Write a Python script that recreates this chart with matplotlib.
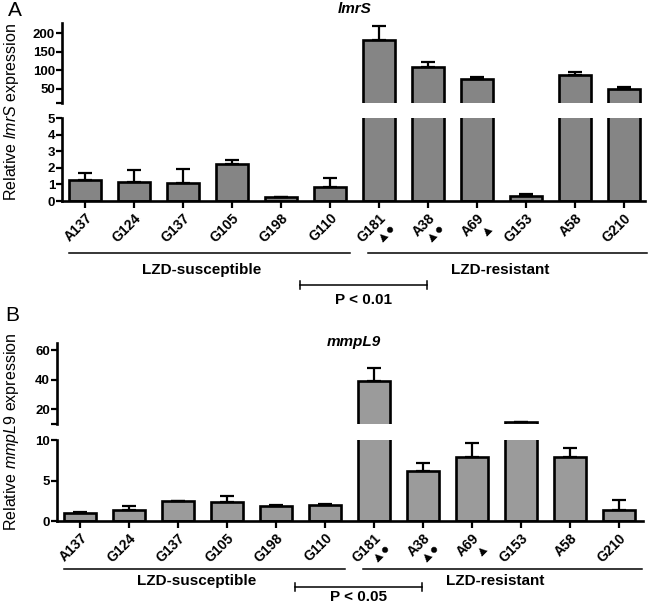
"""
Relative lmrS / mmpL9 expression in LZD-susceptible and LZD-resistant isolates,
drawn as two broken-axis bar charts (GraphPad-like style).
"""

import numpy as np
import matplotlib.pyplot as plt
from matplotlib.transforms import blended_transform_factory

plt.rcParams["font.family"] = ["Liberation Sans", "DejaVu Sans"]
plt.rcParams["font.weight"] = "bold"
plt.rcParams["mathtext.fontset"] = "custom"
plt.rcParams["mathtext.rm"] = "Liberation Sans:weight=normal"
plt.rcParams["mathtext.it"] = "Liberation Sans:style=italic:weight=normal"

# ---------------------------------------------------------------------------
# data
# ---------------------------------------------------------------------------

strains = ["A137", "G124", "G137", "G105", "G198", "G110",
           "G181", "A38", "A69", "G153", "A58", "G210"]
marks = ["", "", "", "", "", "",
         "\u25B2\u25CF", "\u25B2\u25CF", "\u25B2", "", "", ""]

lmrs_mean = [1.25, 1.16, 1.10, 2.21, 0.22, 0.84,
             181.0, 110.0, 76.5, 0.33, 87.5, 50.0]
lmrs_err = [0.42, 0.70, 0.82, 0.27, 0.03, 0.52,
            40.0, 13.0, 5.0, 0.12, 8.5, 6.0]

mmpl9_mean = [1.02, 1.36, 2.45, 2.38, 1.90, 2.00,
              39.5, 6.20, 7.95, 11.2, 7.90, 1.38]
mmpl9_err = [0.04, 0.55, 0.08, 0.65, 0.06, 0.04,
             8.4, 1.00, 1.70, 0.25, 1.15, 1.20]

lmrs_ticks_top = [50, 100, 150, 200]
lmrs_ticks_low = [0, 1, 2, 3, 4, 5]
mmpl9_ticks_top = [20, 40, 60]
mmpl9_ticks_low = [0, 5, 10]

groups = ["LZD-susceptible", "LZD-resistant"]


def _style(ax, bottom=False):
    for side in ["top", "right"]:
        ax.spines[side].set_visible(False)
    ax.spines["left"].set_linewidth(1.9)
    ax.spines["bottom"].set_linewidth(1.9)
    ax.spines["bottom"].set_visible(bottom)
    ax.tick_params(axis="y", direction="out", length=4, width=1.6,
                   labelsize=9.5, pad=1)
    ax.tick_params(axis="x", direction="out", length=5, width=1.6,
                   labelsize=10, pad=2)
    if not bottom:
        ax.tick_params(axis="x", bottom=False, labelbottom=False)


def draw_panel(fig, rect_top, rect_low, xlim, ylim_top, ylim_low,
               ticks_top, ticks_low, mean, err, color, title, title_y,
               ylabel, letter, letter_xy, annot_y, ptext):
    x = np.arange(len(strains))
    mean = np.asarray(mean, dtype=float)
    err = np.asarray(err, dtype=float)
    left, width, bot_low, h_low = rect_low
    bot_top, h_top = rect_top
    ax_top = fig.add_axes([left, bot_top, width, h_top])
    ax_low = fig.add_axes([left, bot_low, width, h_low])

    for ax, (lo, hi) in ((ax_top, ylim_top), (ax_low, ylim_low)):
        ax.bar(x, mean, width=0.65, color=color, edgecolor="black",
               linewidth=1.9, zorder=2)
        # only the error bars whose cap falls inside this segment
        keep = (mean + err >= lo) & (mean + err <= hi)
        ax.errorbar(x[keep], mean[keep],
                    yerr=[np.zeros(keep.sum()), err[keep]], fmt="none",
                    ecolor="black", elinewidth=1.6, capsize=5,
                    capthick=1.6, zorder=3)
        ax.set_xlim(*xlim)

    ax_top.set_ylim(*ylim_top)
    ax_top.set_yticks(ticks_top)
    ax_top.set_yticks([ylim_top[0]], minor=True)
    ax_top.tick_params(axis="y", which="minor", length=4, width=1.6)
    ax_low.set_ylim(*ylim_low)
    ax_low.set_yticks(ticks_low)
    _style(ax_top, bottom=False)
    _style(ax_low, bottom=True)

    labels = [s if not m else s + "\n" + m for s, m in zip(strains, marks)]
    ax_low.set_xticks(x)
    ax_low.set_xticklabels(labels, rotation=45, ha="right",
                           rotation_mode="anchor", fontweight="bold",
                           linespacing=0.9)

    fig.text(0.545, title_y, title, fontsize=11, fontweight="bold",
             style="italic", ha="center", va="center")
    fig.text(0.018, (bot_low + bot_top + h_top) / 2, ylabel, rotation=90,
             ha="center", va="center", fontsize=11.5, fontweight="normal")
    fig.text(letter_xy[0], letter_xy[1], letter, fontsize=15,
             fontweight="normal", ha="left", va="center")

    # group lines, labels and the significance bracket
    tr = blended_transform_factory(ax_low.transData, fig.transFigure)
    y_line, y_group, y_brk, y_p = annot_y
    spans = [(-0.32, 5.4), (5.78, 11.47)]
    for (a, b), name in zip(spans, groups):
        ax_low.plot([a, b], [y_line, y_line], color="black", lw=1.1,
                    transform=tr, clip_on=False)
        ax_low.text((a + b) / 2 - 0.15, y_group, name, transform=tr,
                    ha="center", va="center", fontsize=11,
                    fontweight="bold")
    bx0, bx1 = 4.38, 6.98
    ax_low.plot([bx0, bx1], [y_brk, y_brk], color="black", lw=1.1,
                transform=tr, clip_on=False)
    for bx in (bx0, bx1):
        ax_low.plot([bx, bx], [y_brk - 0.007, y_brk + 0.007], color="black",
                    lw=1.1, transform=tr, clip_on=False)
    ax_low.text((bx0 + bx1) / 2, y_p, ptext, transform=tr, ha="center",
                va="center", fontsize=11, fontweight="bold")
    return ax_top, ax_low


fig = plt.figure(figsize=(6.5, 6.04), dpi=100)

draw_panel(fig,
           rect_top=(0.8295, 0.1325),
           rect_low=(0.0954, 0.897, 0.6672, 0.1374),
           xlim=(-0.469, 11.43),
           ylim_top=(12, 228), ylim_low=(0, 5),
           ticks_top=lmrs_ticks_top, ticks_low=lmrs_ticks_low,
           mean=lmrs_mean, err=lmrs_err, color="#858585",
           title="lmrS", title_y=0.985,
           ylabel="Relative $\\mathit{lmrS}$ expression",
           letter="A", letter_xy=(0.012, 0.982),
           annot_y=(0.581, 0.553, 0.528, 0.503), ptext="P < 0.01")

draw_panel(fig,
           rect_top=(0.298, 0.134),
           rect_low=(0.0877, 0.9015, 0.1374, 0.134),
           xlim=(-0.469, 11.49),
           ylim_top=(10, 65), ylim_low=(0, 10),
           ticks_top=mmpl9_ticks_top, ticks_low=mmpl9_ticks_low,
           mean=mmpl9_mean, err=mmpl9_err, color="#9b9b9b",
           title="mmpL9", title_y=0.434,
           ylabel="Relative $\\mathit{mmpL9}$ expression",
           letter="B", letter_xy=(0.008, 0.478),
           annot_y=(0.058, 0.038, 0.028, 0.011), ptext="P < 0.05")

fig.savefig("out.png", dpi=100)
